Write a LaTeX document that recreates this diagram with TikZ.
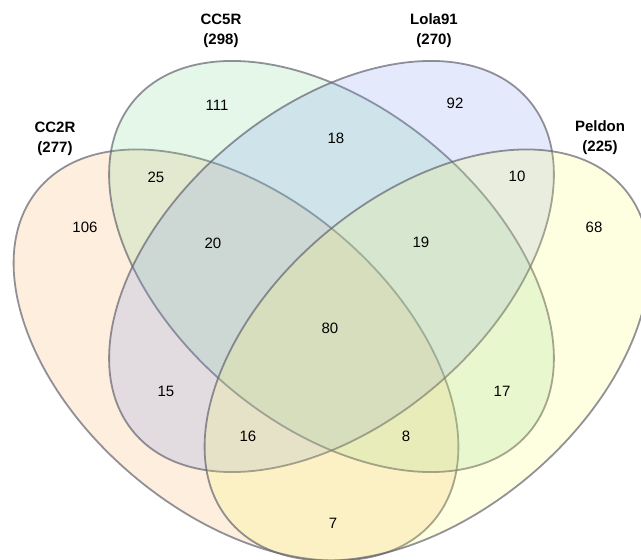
\documentclass[tikz,border=0pt]{standalone}
\usepackage{fontspec}
\setmainfont{Liberation Sans}
\begin{document}
\begin{tikzpicture}[x=1pt,y=1pt]
	%---------------- Colors & styles ----------------
	\definecolor{setA}{RGB}{245,170,85}  % CC2R
	\definecolor{setB}{RGB}{125,215,145} % CC5R
	\definecolor{setC}{RGB}{120,150,240} % Lola91
	\definecolor{setD}{RGB}{250,250,100} % Peldon
	\definecolor{rim}{RGB}{100,100,112}  % ellipse outline
	\tikzset{
		venn/.style={fill=#1, fill opacity=0.2, draw=rim, draw opacity=0.7, line width=1.8pt},
		count/.style={font=\fontsize{15}{18}\selectfont, inner sep=0pt},
		setname/.style={font=\fontsize{15}{20}\selectfont\bfseries, align=center, inner sep=0pt},
	}
	
	%---------------- Ellipse size ----------------
	\def\ra{258}
	\def\rb{158.5}
	
	%---------------- Frame ----------------
	\useasboundingbox (0,0) rectangle (641,560);
	\clip (0,0) rectangle (641,560);
	
	%---------------- The four sets ----------------
	\draw[venn=setA, shift={(236,205)}, rotate=-40] (0,0) ellipse [x radius=\ra, y radius=\rb];   % CC2R
	\draw[venn=setB, shift={(331.5,293.5)}, rotate=-40] (0,0) ellipse [x radius=\ra, y radius=\rb]; % CC5R
	\draw[venn=setC, shift={(331.5,293.5)}, rotate=40] (0,0) ellipse [x radius=\ra, y radius=\rb];  % Lola91
	\draw[venn=setD, shift={(427,205)}, rotate=40] (0,0) ellipse [x radius=\ra, y radius=\rb];     % Peldon
	
	%---------------- Set names ----------------
	\node[setname] (lCCtwo)  at (55,421)  {CC2R\\(277)};
	\node[setname] (lCCfive) at (221,529) {CC5R\\(298)};
	\node[setname] (lLola)   at (434,529) {Lola91\\(270)};
	\node[setname] (lPeldon) at (600,422) {Peldon\\(225)};
	
	%---------------- Region counts ----------------
	\node[count] (nA)    at (85,333)  {106};
	\node[count] (nB)    at (217,455) {111};
	\node[count] (nC)    at (455,457) {92};
	\node[count] (nD)    at (594,333) {68};
	\node[count] (nAB)   at (156,383) {25};
	\node[count] (nBC)   at (336,422) {18};
	\node[count] (nCD)   at (517,384) {10};
	\node[count] (nABC)  at (213,317) {20};
	\node[count] (nBCD)  at (421,318) {19};
	\node[count] (nABCD) at (330,232) {80};
	\node[count] (nAC)   at (166,169) {15};
	\node[count] (nBD)   at (502,169) {17};
	\node[count] (nACD)  at (248,124) {16};
	\node[count] (nABD)  at (406,124) {8};
	\node[count] (nAD)   at (333,37)  {7};
\end{tikzpicture}
\end{document}
